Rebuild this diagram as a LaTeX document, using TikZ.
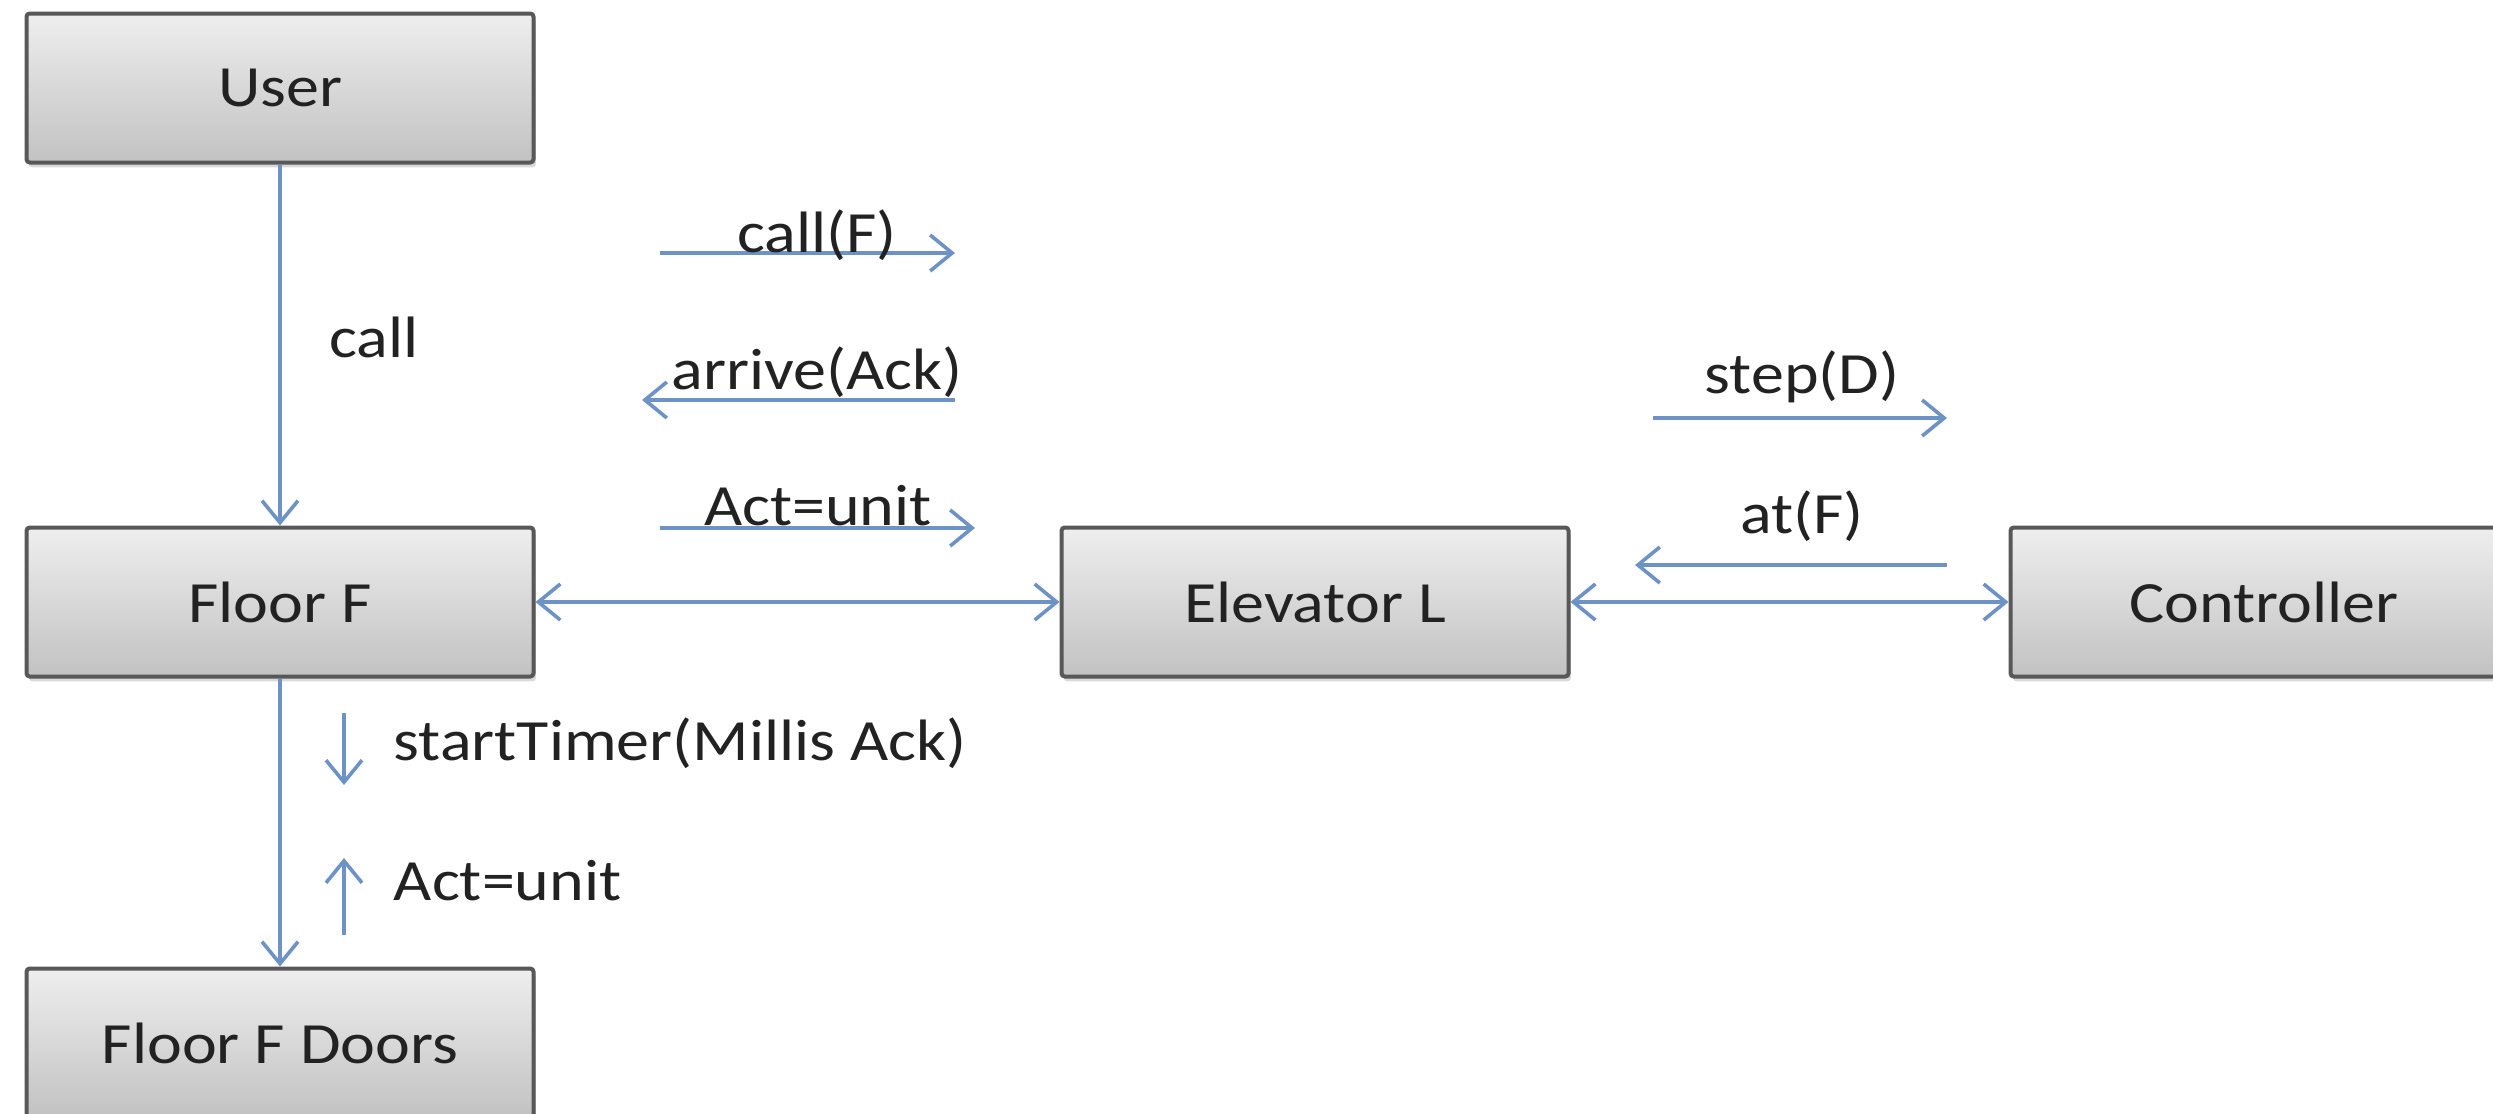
\documentclass[tikz,border=0pt]{standalone}
\usepackage{fontspec}
\setmainfont{Carlito}[FakeStretch=1.13]
\usetikzlibrary{arrows.meta,shadows}

\definecolor{flowblue}{RGB}{108,146,198}
\definecolor{boxedge}{RGB}{88,88,88}
\definecolor{boxtop}{RGB}{238,238,238}
\definecolor{boxbottom}{RGB}{194,194,194}
\definecolor{inkgray}{RGB}{34,34,34}

\tikzset{
  txt/.style={text=inkgray, font=\fontsize{14.6pt}{17pt}\selectfont},
  unitbox/.style={txt, draw=boxedge, line width=1pt, top color=boxtop,
    bottom color=boxbottom, rounded corners=0.8pt,
    minimum width=126.75pt, minimum height=37.25pt, inner sep=0pt,
    drop shadow={shadow xshift=0.6pt, shadow yshift=-1.2pt, opacity=0.3}},
  link/.style={draw=flowblue, line width=0.9pt},
  onehead/.style={link, -{Straight Barb[length=5.5pt,width=9pt]}},
  twohead/.style={link, {Straight Barb[length=5.5pt,width=9pt]}-{Straight Barb[length=5.5pt,width=9pt]}},
  msglabel/.style={txt, inner sep=0pt, anchor=base},
}

\begin{document}
\begin{tikzpicture}[x=0.25pt, y=-0.25pt]
  \useasboundingbox (0,0) rectangle (2493,1113);

  % components
  \node[unitbox] (user)  at (280,88)   {User};
  \node[unitbox] (floor) at (280,602)  {Floor F};
  \node[unitbox] (elev)  at (1315,602) {Elevator L};
  \node[unitbox] (ctrl)  at (2264,602) {Controller};
  \node[unitbox] (doors) at (280,1043) {Floor F Doors};

  % channels between components
  \draw[onehead] (user.south) -- (floor.north);
  \draw[twohead] (floor.east) -- (elev.west);
  \draw[twohead] (elev.east) -- (ctrl.west);
  \draw[onehead] (floor.south) -- (doors.north);

  % message directions along the channels
  \coordinate (cfA) at (660,253);  \coordinate (cfB) at (955,253);
  \coordinate (arA) at (955,400);  \coordinate (arB) at (642,400);
  \coordinate (auA) at (660,528);  \coordinate (auB) at (975,528);
  \coordinate (sdA) at (1653,418); \coordinate (sdB) at (1947,418);
  \coordinate (afA) at (1947,565); \coordinate (afB) at (1635,565);
  \coordinate (stA) at (344,713);  \coordinate (stB) at (344,785);
  \coordinate (adA) at (344,935);  \coordinate (adB) at (344,858);

  \draw[onehead] (cfA) -- (cfB);
  \draw[onehead] (arA) -- (arB);
  \draw[onehead] (auA) -- (auB);
  \draw[onehead] (sdA) -- (sdB);
  \draw[onehead] (afA) -- (afB);
  \draw[onehead] (stA) -- (stB);
  \draw[onehead] (adA) -- (adB);

  % message labels
  \node[msglabel] (lcall)  at (374,357)  {call};
  \node[msglabel] (lcallf) at (817,252)  {call(F)};
  \node[msglabel] (larr)   at (817,389)  {arrive(Ack)};
  \node[msglabel] (lact)   at (818,525)  {Act=unit};
  \node[msglabel] (lstep)  at (1802,393) {step(D)};
  \node[msglabel] (lat)    at (1802,533) {at(F)};
  \node[msglabel, anchor=base west] (ltimer) at (393,760) {startTimer(Millis Ack)};
  \node[msglabel, anchor=base west] (lact2)  at (393,900) {Act=unit};
\end{tikzpicture}
\end{document}
